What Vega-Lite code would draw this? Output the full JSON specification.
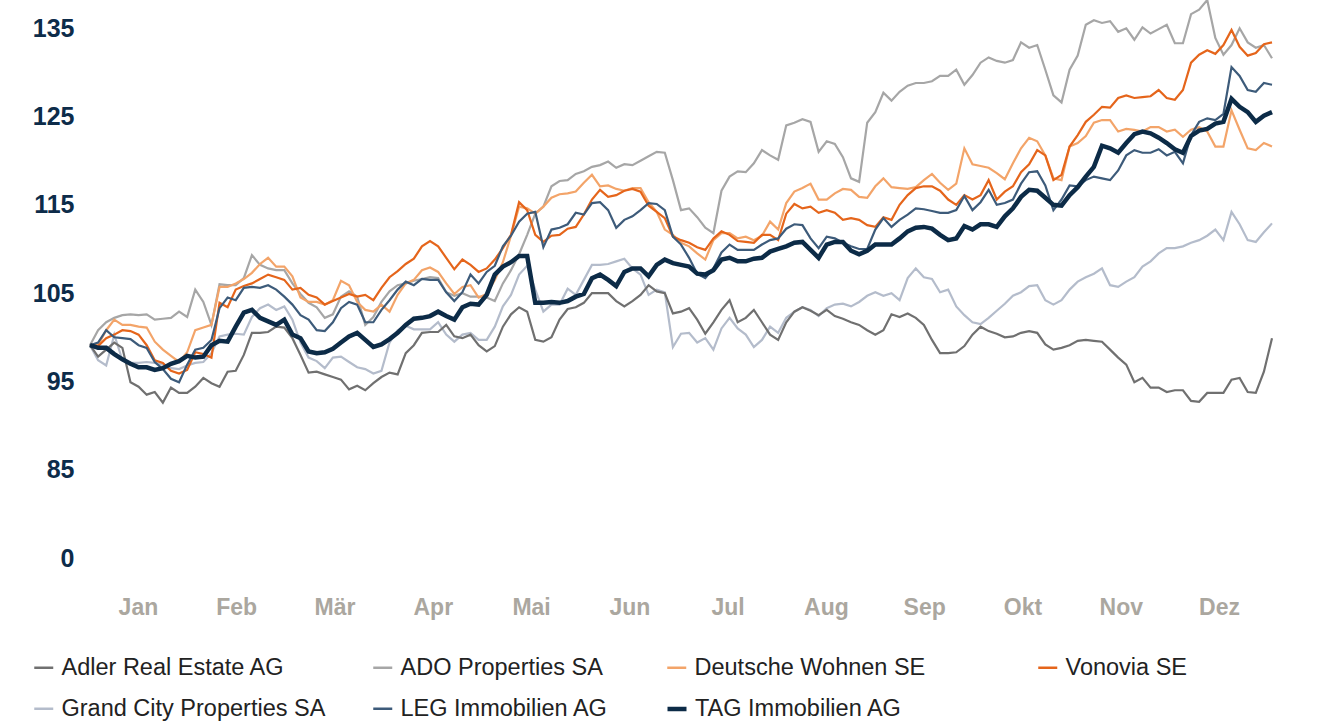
{
  "$schema": "https://vega.github.io/schema/vega-lite/v6.json",
  "width": 1182,
  "height": 558,
  "autosize": {"type": "none"},
  "padding": {"left": 90, "top": 0, "right": 47, "bottom": 163},
  "background": "white",
  "datasets": {
    "names": [
      {"k": "a", "name": "Adler Real Estate AG"},
      {"k": "o", "name": "ADO Properties SA"},
      {"k": "w", "name": "Deutsche Wohnen SE"},
      {"k": "v", "name": "Vonovia SE"},
      {"k": "g", "name": "Grand City Properties SA"},
      {"k": "l", "name": "LEG Immobilien AG"},
      {"k": "t", "name": "TAG Immobilien AG"}
    ]
  },
  "data": {
    "values": [
      {"d": 0, "a": 99.1, "o": 99.1, "w": 99.1, "v": 99.1, "g": 99.1, "l": 99.1, "t": 99.1},
      {"d": 5, "a": 98.6, "o": 101.7, "w": 100.8, "v": 99.9, "g": 96.8, "l": 100.8, "t": 98.8},
      {"d": 10, "a": 98.8, "o": 102.5, "w": 101.4, "v": 100.8, "g": 97.4, "l": 99.9, "t": 97.5},
      {"d": 15, "a": 94.4, "o": 102.5, "w": 101.2, "v": 100.3, "g": 97.1, "l": 99.1, "t": 96.6},
      {"d": 20, "a": 93.8, "o": 102.0, "w": 99.5, "v": 97.4, "g": 97.1, "l": 97.2, "t": 96.3},
      {"d": 25, "a": 94.3, "o": 102.2, "w": 97.9, "v": 96.2, "g": 96.5, "l": 95.3, "t": 97.0},
      {"d": 30, "a": 93.7, "o": 102.3, "w": 98.3, "v": 96.3, "g": 96.8, "l": 96.9, "t": 97.9},
      {"d": 35, "a": 95.4, "o": 104.0, "w": 101.1, "v": 98.1, "g": 97.2, "l": 98.8, "t": 97.8},
      {"d": 40, "a": 94.4, "o": 106.0, "w": 105.7, "v": 103.9, "g": 100.1, "l": 103.3, "t": 99.6},
      {"d": 45, "a": 96.2, "o": 105.9, "w": 106.1, "v": 105.4, "g": 100.4, "l": 104.2, "t": 101.2},
      {"d": 50, "a": 100.5, "o": 109.3, "w": 107.3, "v": 106.1, "g": 102.3, "l": 105.7, "t": 103.1},
      {"d": 55, "a": 100.6, "o": 107.8, "w": 109.0, "v": 107.1, "g": 103.7, "l": 105.9, "t": 101.8},
      {"d": 60, "a": 101.1, "o": 107.6, "w": 108.0, "v": 106.5, "g": 103.5, "l": 104.6, "t": 102.0},
      {"d": 65, "a": 98.0, "o": 104.9, "w": 104.5, "v": 105.6, "g": 99.4, "l": 102.5, "t": 99.9},
      {"d": 70, "a": 96.1, "o": 103.4, "w": 104.0, "v": 104.5, "g": 97.3, "l": 100.8, "t": 98.2},
      {"d": 75, "a": 95.5, "o": 102.6, "w": 104.2, "v": 104.1, "g": 97.7, "l": 101.7, "t": 98.7},
      {"d": 80, "a": 94.1, "o": 105.2, "w": 105.9, "v": 104.9, "g": 97.2, "l": 104.0, "t": 100.1},
      {"d": 85, "a": 94.0, "o": 101.4, "w": 103.1, "v": 104.8, "g": 96.4, "l": 101.7, "t": 99.7},
      {"d": 90, "a": 95.5, "o": 104.0, "w": 103.7, "v": 105.6, "g": 96.2, "l": 103.1, "t": 99.2},
      {"d": 95, "a": 95.8, "o": 105.9, "w": 104.8, "v": 107.5, "g": 100.8, "l": 105.4, "t": 100.5},
      {"d": 100, "a": 99.1, "o": 106.4, "w": 106.5, "v": 108.9, "g": 100.9, "l": 105.9, "t": 102.1},
      {"d": 105, "a": 100.6, "o": 106.8, "w": 107.9, "v": 110.9, "g": 100.9, "l": 106.5, "t": 102.4},
      {"d": 110, "a": 101.4, "o": 105.1, "w": 106.1, "v": 109.0, "g": 100.3, "l": 105.1, "t": 102.4},
      {"d": 115, "a": 99.9, "o": 105.0, "w": 105.7, "v": 108.8, "g": 100.3, "l": 105.1, "t": 103.4},
      {"d": 120, "a": 99.1, "o": 104.6, "w": 104.5, "v": 107.4, "g": 99.7, "l": 106.1, "t": 103.7},
      {"d": 125, "a": 99.0, "o": 104.1, "w": 106.5, "v": 108.8, "g": 101.2, "l": 108.1, "t": 107.1},
      {"d": 130, "a": 102.6, "o": 107.6, "w": 111.5, "v": 111.6, "g": 104.8, "l": 111.5, "t": 108.5},
      {"d": 135, "a": 102.9, "o": 111.6, "w": 114.6, "v": 114.4, "g": 108.1, "l": 114.0, "t": 109.2},
      {"d": 140, "a": 99.5, "o": 114.8, "w": 114.8, "v": 110.8, "g": 102.9, "l": 110.2, "t": 103.9},
      {"d": 145, "a": 102.0, "o": 117.7, "w": 116.2, "v": 111.6, "g": 103.7, "l": 112.4, "t": 103.9},
      {"d": 150, "a": 103.4, "o": 118.5, "w": 116.5, "v": 112.5, "g": 104.8, "l": 114.1, "t": 104.6},
      {"d": 155, "a": 105.0, "o": 119.3, "w": 118.4, "v": 115.6, "g": 108.2, "l": 115.2, "t": 106.7},
      {"d": 160, "a": 105.0, "o": 119.9, "w": 117.2, "v": 115.9, "g": 108.3, "l": 114.4, "t": 106.5},
      {"d": 165, "a": 103.5, "o": 119.6, "w": 116.6, "v": 116.6, "g": 108.9, "l": 113.3, "t": 107.4},
      {"d": 170, "a": 104.8, "o": 120.0, "w": 116.9, "v": 116.5, "g": 107.1, "l": 114.4, "t": 107.8},
      {"d": 175, "a": 105.2, "o": 121.0, "w": 114.2, "v": 114.2, "g": 105.4, "l": 115.1, "t": 108.2},
      {"d": 180, "a": 102.7, "o": 117.8, "w": 111.6, "v": 111.4, "g": 98.9, "l": 111.4, "t": 108.4},
      {"d": 185, "a": 103.3, "o": 114.6, "w": 110.3, "v": 110.7, "g": 100.5, "l": 109.0, "t": 108.0},
      {"d": 190, "a": 100.4, "o": 112.4, "w": 108.8, "v": 109.9, "g": 99.9, "l": 106.7, "t": 107.1},
      {"d": 195, "a": 103.1, "o": 116.6, "w": 111.8, "v": 112.0, "g": 101.0, "l": 109.6, "t": 108.8},
      {"d": 200, "a": 101.7, "o": 118.8, "w": 111.2, "v": 110.9, "g": 101.0, "l": 109.9, "t": 108.6},
      {"d": 205, "a": 103.1, "o": 119.7, "w": 111.0, "v": 110.7, "g": 98.9, "l": 109.9, "t": 108.9},
      {"d": 210, "a": 100.3, "o": 120.6, "w": 113.1, "v": 111.6, "g": 101.2, "l": 111.0, "t": 109.7},
      {"d": 215, "a": 101.7, "o": 124.0, "w": 115.2, "v": 114.0, "g": 102.2, "l": 112.3, "t": 110.3},
      {"d": 220, "a": 103.4, "o": 124.7, "w": 116.9, "v": 114.6, "g": 103.4, "l": 112.7, "t": 110.8},
      {"d": 225, "a": 102.5, "o": 121.0, "w": 115.6, "v": 114.1, "g": 102.4, "l": 110.1, "t": 109.0},
      {"d": 230, "a": 102.4, "o": 121.9, "w": 116.3, "v": 114.1, "g": 103.7, "l": 111.2, "t": 110.8},
      {"d": 235, "a": 101.7, "o": 118.0, "w": 116.7, "v": 113.5, "g": 103.5, "l": 110.3, "t": 109.8},
      {"d": 240, "a": 100.8, "o": 124.3, "w": 115.8, "v": 112.7, "g": 104.7, "l": 110.0, "t": 109.8},
      {"d": 245, "a": 100.8, "o": 127.7, "w": 118.0, "v": 113.6, "g": 104.7, "l": 113.5, "t": 110.5},
      {"d": 250, "a": 102.3, "o": 127.8, "w": 116.9, "v": 115.0, "g": 104.2, "l": 113.3, "t": 111.2},
      {"d": 255, "a": 102.2, "o": 128.8, "w": 117.0, "v": 116.9, "g": 107.8, "l": 114.6, "t": 112.4},
      {"d": 260, "a": 99.7, "o": 129.0, "w": 118.5, "v": 117.1, "g": 106.6, "l": 114.3, "t": 112.3},
      {"d": 265, "a": 98.2, "o": 129.6, "w": 116.7, "v": 115.6, "g": 105.4, "l": 114.1, "t": 111.0},
      {"d": 270, "a": 99.0, "o": 128.6, "w": 121.4, "v": 116.1, "g": 102.5, "l": 116.0, "t": 112.6},
      {"d": 275, "a": 101.2, "o": 131.1, "w": 119.4, "v": 116.1, "g": 101.5, "l": 115.3, "t": 112.8},
      {"d": 280, "a": 100.4, "o": 131.3, "w": 118.6, "v": 115.6, "g": 103.0, "l": 115.0, "t": 112.5},
      {"d": 285, "a": 100.1, "o": 131.4, "w": 119.7, "v": 117.1, "g": 104.7, "l": 115.6, "t": 114.6},
      {"d": 290, "a": 100.7, "o": 132.8, "w": 122.6, "v": 119.6, "g": 105.8, "l": 118.7, "t": 116.7},
      {"d": 295, "a": 99.2, "o": 130.3, "w": 120.6, "v": 120.6, "g": 104.2, "l": 117.2, "t": 115.8},
      {"d": 300, "a": 98.8, "o": 126.6, "w": 117.8, "v": 118.4, "g": 104.2, "l": 115.6, "t": 114.9},
      {"d": 305, "a": 99.6, "o": 131.9, "w": 122.0, "v": 122.9, "g": 106.3, "l": 117.1, "t": 117.0},
      {"d": 310, "a": 99.6, "o": 135.9, "w": 124.3, "v": 125.2, "g": 107.2, "l": 118.2, "t": 119.3},
      {"d": 315, "a": 98.6, "o": 135.8, "w": 124.6, "v": 126.0, "g": 105.9, "l": 117.8, "t": 121.4},
      {"d": 320, "a": 96.9, "o": 135.0, "w": 123.6, "v": 127.4, "g": 106.3, "l": 120.6, "t": 122.0},
      {"d": 325, "a": 95.4, "o": 135.1, "w": 123.3, "v": 127.2, "g": 108.0, "l": 120.9, "t": 123.3},
      {"d": 330, "a": 94.3, "o": 134.9, "w": 123.8, "v": 128.0, "g": 109.5, "l": 121.3, "t": 122.6},
      {"d": 335, "a": 94.0, "o": 133.3, "w": 123.5, "v": 126.9, "g": 110.1, "l": 121.0, "t": 121.3},
      {"d": 340, "a": 92.8, "o": 136.6, "w": 123.5, "v": 131.1, "g": 110.7, "l": 122.9, "t": 122.8},
      {"d": 345, "a": 93.7, "o": 138.2, "w": 123.3, "v": 132.5, "g": 111.5, "l": 124.8, "t": 123.6},
      {"d": 350, "a": 93.7, "o": 132.0, "w": 121.6, "v": 133.1, "g": 111.0, "l": 125.3, "t": 124.4},
      {"d": 355, "a": 95.4, "o": 135.0, "w": 123.5, "v": 132.9, "g": 112.8, "l": 129.6, "t": 126.1},
      {"d": 360, "a": 93.7, "o": 132.8, "w": 121.2, "v": 132.2, "g": 110.8, "l": 127.8, "t": 124.4},
      {"d": 365, "a": 99.9, "o": 131.6, "w": 121.6, "v": 133.4, "g": 112.9, "l": 128.6, "t": 125.5},
      {"d": 2.5, "a": 97.8, "o": 100.8, "w": 99.1, "v": 99.0, "g": 97.4, "l": 99.4, "t": 98.8},
      {"d": 7.5, "a": 99.4, "o": 102.2, "w": 102.0, "v": 100.3, "g": 100.3, "l": 100.0, "t": 98.1},
      {"d": 12.5, "a": 94.9, "o": 102.6, "w": 101.4, "v": 100.7, "g": 97.1, "l": 99.8, "t": 97.0},
      {"d": 17.5, "a": 93.5, "o": 102.6, "w": 101.1, "v": 99.1, "g": 97.2, "l": 98.8, "t": 96.6},
      {"d": 22.5, "a": 92.6, "o": 102.1, "w": 98.6, "v": 97.1, "g": 96.9, "l": 96.4, "t": 96.5},
      {"d": 27.5, "a": 93.7, "o": 102.9, "w": 97.2, "v": 95.9, "g": 96.4, "l": 94.9, "t": 97.3},
      {"d": 32.5, "a": 94.4, "o": 105.4, "w": 100.8, "v": 98.3, "g": 97.1, "l": 98.6, "t": 97.7},
      {"d": 37.5, "a": 94.8, "o": 101.4, "w": 101.4, "v": 97.7, "g": 98.2, "l": 99.7, "t": 99.1},
      {"d": 42.5, "a": 96.1, "o": 105.9, "w": 105.7, "v": 103.4, "g": 100.3, "l": 104.5, "t": 99.5},
      {"d": 47.5, "a": 98.0, "o": 106.7, "w": 106.6, "v": 105.8, "g": 100.3, "l": 105.6, "t": 102.8},
      {"d": 52.5, "a": 100.5, "o": 108.2, "w": 108.3, "v": 106.6, "g": 103.3, "l": 105.6, "t": 102.2},
      {"d": 57.5, "a": 101.2, "o": 107.6, "w": 108.0, "v": 106.8, "g": 103.1, "l": 105.4, "t": 101.4},
      {"d": 62.5, "a": 99.9, "o": 106.1, "w": 106.9, "v": 105.4, "g": 102.0, "l": 103.7, "t": 100.3},
      {"d": 67.5, "a": 96.0, "o": 103.9, "w": 104.0, "v": 104.8, "g": 97.7, "l": 102.0, "t": 98.4},
      {"d": 72.5, "a": 95.8, "o": 102.2, "w": 103.7, "v": 103.7, "g": 96.5, "l": 100.7, "t": 98.3},
      {"d": 77.5, "a": 95.2, "o": 104.6, "w": 106.4, "v": 104.5, "g": 97.8, "l": 103.3, "t": 99.4},
      {"d": 82.5, "a": 94.5, "o": 104.6, "w": 104.0, "v": 104.6, "g": 96.6, "l": 103.7, "t": 100.5},
      {"d": 87.5, "a": 94.8, "o": 102.3, "w": 102.9, "v": 104.2, "g": 95.9, "l": 101.7, "t": 98.9},
      {"d": 92.5, "a": 96.0, "o": 105.2, "w": 102.9, "v": 106.8, "g": 99.4, "l": 104.2, "t": 99.8},
      {"d": 97.5, "a": 98.2, "o": 106.1, "w": 106.1, "v": 108.3, "g": 101.3, "l": 106.3, "t": 101.4},
      {"d": 102.5, "a": 100.5, "o": 106.6, "w": 107.6, "v": 110.3, "g": 100.9, "l": 106.6, "t": 102.2},
      {"d": 107.5, "a": 100.6, "o": 106.7, "w": 107.4, "v": 110.3, "g": 101.7, "l": 106.5, "t": 102.9},
      {"d": 112.5, "a": 100.1, "o": 104.7, "w": 104.9, "v": 107.7, "g": 99.5, "l": 104.1, "t": 102.0},
      {"d": 117.5, "a": 100.3, "o": 104.6, "w": 105.9, "v": 108.2, "g": 100.5, "l": 107.1, "t": 103.8},
      {"d": 122.5, "a": 98.4, "o": 104.5, "w": 104.9, "v": 107.8, "g": 99.7, "l": 107.4, "t": 104.8},
      {"d": 127.5, "a": 101.2, "o": 106.1, "w": 108.5, "v": 110.1, "g": 103.5, "l": 110.3, "t": 108.0},
      {"d": 132.5, "a": 103.4, "o": 109.4, "w": 114.8, "v": 115.3, "g": 107.1, "l": 113.1, "t": 109.2},
      {"d": 137.5, "a": 99.7, "o": 114.0, "w": 114.0, "v": 111.6, "g": 105.4, "l": 114.2, "t": 103.9},
      {"d": 142.5, "a": 100.0, "o": 117.1, "w": 115.8, "v": 111.5, "g": 103.7, "l": 112.2, "t": 104.0},
      {"d": 147.5, "a": 103.2, "o": 117.8, "w": 116.3, "v": 112.3, "g": 105.5, "l": 112.8, "t": 104.1},
      {"d": 152.5, "a": 103.9, "o": 118.8, "w": 117.5, "v": 113.9, "g": 106.5, "l": 113.9, "t": 104.9},
      {"d": 157.5, "a": 105.0, "o": 119.5, "w": 117.1, "v": 116.7, "g": 108.2, "l": 115.3, "t": 107.1},
      {"d": 162.5, "a": 104.1, "o": 119.2, "w": 116.8, "v": 116.1, "g": 108.6, "l": 112.4, "t": 105.8},
      {"d": 167.5, "a": 104.1, "o": 119.5, "w": 116.9, "v": 116.8, "g": 107.8, "l": 113.7, "t": 107.8},
      {"d": 172.5, "a": 105.9, "o": 120.5, "w": 115.3, "v": 114.9, "g": 104.8, "l": 115.2, "t": 106.9},
      {"d": 177.5, "a": 105.0, "o": 120.9, "w": 112.2, "v": 113.5, "g": 105.1, "l": 114.4, "t": 108.8},
      {"d": 182.5, "a": 102.9, "o": 114.4, "w": 110.7, "v": 111.0, "g": 100.4, "l": 110.5, "t": 108.2},
      {"d": 187.5, "a": 102.0, "o": 113.6, "w": 109.5, "v": 110.2, "g": 99.4, "l": 107.2, "t": 107.2},
      {"d": 192.5, "a": 101.7, "o": 111.8, "w": 111.0, "v": 111.2, "g": 98.6, "l": 107.8, "t": 107.6},
      {"d": 197.5, "a": 104.2, "o": 118.2, "w": 111.8, "v": 111.6, "g": 102.2, "l": 110.5, "t": 109.0},
      {"d": 202.5, "a": 102.2, "o": 118.7, "w": 111.4, "v": 110.8, "g": 100.3, "l": 109.9, "t": 108.6},
      {"d": 207.5, "a": 101.7, "o": 121.2, "w": 111.5, "v": 111.6, "g": 99.7, "l": 110.5, "t": 109.0},
      {"d": 212.5, "a": 99.7, "o": 120.1, "w": 112.2, "v": 111.0, "g": 100.5, "l": 111.2, "t": 110.0},
      {"d": 217.5, "a": 102.9, "o": 124.3, "w": 116.5, "v": 115.1, "g": 102.9, "l": 112.8, "t": 110.7},
      {"d": 222.5, "a": 103.0, "o": 124.4, "w": 117.4, "v": 114.8, "g": 103.1, "l": 111.2, "t": 109.9},
      {"d": 227.5, "a": 103.1, "o": 122.2, "w": 115.6, "v": 114.4, "g": 103.3, "l": 111.4, "t": 110.5},
      {"d": 232.5, "a": 102.1, "o": 120.4, "w": 116.8, "v": 113.3, "g": 103.8, "l": 110.7, "t": 110.8},
      {"d": 237.5, "a": 101.4, "o": 117.6, "w": 115.9, "v": 113.3, "g": 104.0, "l": 110.0, "t": 109.4},
      {"d": 242.5, "a": 100.3, "o": 125.5, "w": 117.1, "v": 112.5, "g": 105.1, "l": 112.2, "t": 110.5},
      {"d": 247.5, "a": 102.6, "o": 126.8, "w": 117.0, "v": 113.3, "g": 105.0, "l": 112.5, "t": 110.5},
      {"d": 252.5, "a": 102.7, "o": 128.5, "w": 116.8, "v": 116.1, "g": 106.7, "l": 113.9, "t": 112.0},
      {"d": 257.5, "a": 101.4, "o": 128.8, "w": 117.8, "v": 117.1, "g": 106.8, "l": 114.5, "t": 112.5},
      {"d": 262.5, "a": 98.2, "o": 129.6, "w": 117.5, "v": 116.6, "g": 105.1, "l": 114.1, "t": 111.6},
      {"d": 267.5, "a": 98.3, "o": 130.3, "w": 117.4, "v": 115.0, "g": 103.5, "l": 114.4, "t": 111.2},
      {"d": 272.5, "a": 100.3, "o": 129.7, "w": 119.6, "v": 115.6, "g": 101.7, "l": 114.4, "t": 112.2},
      {"d": 277.5, "a": 100.7, "o": 131.7, "w": 119.2, "v": 117.8, "g": 102.2, "l": 116.7, "t": 112.8},
      {"d": 282.5, "a": 100.0, "o": 131.1, "w": 117.9, "v": 116.5, "g": 103.8, "l": 115.2, "t": 113.7},
      {"d": 287.5, "a": 100.5, "o": 133.4, "w": 121.4, "v": 118.7, "g": 105.1, "l": 117.4, "t": 115.9},
      {"d": 292.5, "a": 100.5, "o": 133.1, "w": 122.2, "v": 121.2, "g": 105.9, "l": 118.8, "t": 116.6},
      {"d": 297.5, "a": 98.6, "o": 127.4, "w": 118.0, "v": 117.8, "g": 103.7, "l": 114.4, "t": 115.0},
      {"d": 302.5, "a": 99.1, "o": 130.3, "w": 121.6, "v": 121.6, "g": 105.4, "l": 117.2, "t": 116.1},
      {"d": 307.5, "a": 99.7, "o": 135.4, "w": 122.8, "v": 124.4, "g": 106.8, "l": 117.8, "t": 118.2},
      {"d": 312.5, "a": 99.5, "o": 135.6, "w": 124.6, "v": 126.1, "g": 107.8, "l": 118.0, "t": 121.7},
      {"d": 317.5, "a": 97.7, "o": 134.6, "w": 123.3, "v": 127.1, "g": 105.7, "l": 118.9, "t": 120.9},
      {"d": 322.5, "a": 94.9, "o": 133.7, "w": 123.5, "v": 127.1, "g": 106.8, "l": 121.2, "t": 123.0},
      {"d": 327.5, "a": 94.3, "o": 134.4, "w": 123.8, "v": 127.3, "g": 108.6, "l": 120.9, "t": 123.1},
      {"d": 332.5, "a": 93.8, "o": 135.4, "w": 123.3, "v": 127.1, "g": 110.1, "l": 120.6, "t": 122.0},
      {"d": 337.5, "a": 94.0, "o": 133.3, "w": 122.7, "v": 128.0, "g": 110.3, "l": 119.7, "t": 120.9},
      {"d": 342.5, "a": 92.7, "o": 137.1, "w": 123.8, "v": 132.0, "g": 111.0, "l": 124.4, "t": 123.4},
      {"d": 347.5, "a": 93.7, "o": 133.9, "w": 121.6, "v": 132.1, "g": 112.2, "l": 124.6, "t": 124.2},
      {"d": 352.5, "a": 95.2, "o": 133.1, "w": 125.7, "v": 134.8, "g": 114.2, "l": 130.6, "t": 127.0},
      {"d": 357.5, "a": 93.8, "o": 133.4, "w": 121.4, "v": 131.9, "g": 111.0, "l": 128.0, "t": 125.5},
      {"d": 362.5, "a": 96.1, "o": 133.1, "w": 122.0, "v": 133.2, "g": 111.9, "l": 128.8, "t": 125.1}
    ]
  },
  "transform": [
    {"fold": ["a", "o", "w", "v", "g", "l", "t"], "as": ["k", "val"]},
    {"lookup": "k", "from": {"data": {"name": "names"}, "key": "k", "fields": ["name"]}}
  ],
  "encoding": {
    "x": {
      "field": "d",
      "type": "quantitative",
      "scale": {"domain": [0, 365], "nice": false, "zero": false},
      "axis": {
        "title": null,
        "values": [14.8, 45.15, 75.5, 105.85, 136.2, 166.55, 196.9, 227.25, 257.6, 287.95, 318.3, 348.65],
        "labelExpr": "['Jan','Feb','Mär','Apr','Mai','Jun','Jul','Aug','Sep','Okt','Nov','Dez'][floor(datum.value/30.35)]",
        "domain": false,
        "ticks": false,
        "grid": false,
        "labelFont": "Liberation Sans",
        "labelFontWeight": "bold",
        "labelFontSize": 23,
        "labelColor": "#aba79f",
        "labelPadding": 38,
        "labelFlush": false,
        "labelOverlap": false
      }
    },
    "y": {
      "field": "val",
      "type": "quantitative",
      "scale": {"domain": [75, 138.2], "nice": false, "zero": false},
      "axis": {
        "title": null,
        "values": [75, 85, 95, 105, 115, 125, 135],
        "labelExpr": "datum.value == 75 ? '0' : datum.label",
        "domain": false,
        "ticks": false,
        "grid": false,
        "labelFont": "Liberation Sans",
        "labelFontWeight": "bold",
        "labelFontSize": 25,
        "labelColor": "#0d2c4a",
        "labelPadding": 16,
        "labelOverlap": false
      }
    }
  },
  "layer": [
    {
      "transform": [{"filter": "datum.k === 'g'"}],
      "mark": {"type": "line", "strokeWidth": 2.2},
      "encoding": {"color": {"field": "name", "type": "nominal", "title": null, "scale": {"range": ["#b4bccb"]}, "legend": {"orient": "none", "legendX": -58, "legendY": 697, "symbolStrokeWidth": 2.5}}}
    },
    {
      "transform": [{"filter": "datum.k === 'a'"}],
      "mark": {"type": "line", "strokeWidth": 2.2},
      "encoding": {"color": {"field": "name", "type": "nominal", "title": null, "scale": {"range": ["#707070"]}, "legend": {"orient": "none", "legendX": -58, "legendY": 656, "symbolStrokeWidth": 2.5}}}
    },
    {
      "transform": [{"filter": "datum.k === 'o'"}],
      "mark": {"type": "line", "strokeWidth": 2.2},
      "encoding": {"color": {"field": "name", "type": "nominal", "title": null, "scale": {"range": ["#a6a6a6"]}, "legend": {"orient": "none", "legendX": 281, "legendY": 656, "symbolStrokeWidth": 2.5}}}
    },
    {
      "transform": [{"filter": "datum.k === 'w'"}],
      "mark": {"type": "line", "strokeWidth": 2.2},
      "encoding": {"color": {"field": "name", "type": "nominal", "title": null, "scale": {"range": ["#f3a469"]}, "legend": {"orient": "none", "legendX": 575, "legendY": 656, "symbolStrokeWidth": 2.5}}}
    },
    {
      "transform": [{"filter": "datum.k === 'v'"}],
      "mark": {"type": "line", "strokeWidth": 2.2},
      "encoding": {"color": {"field": "name", "type": "nominal", "title": null, "scale": {"range": ["#e5651b"]}, "legend": {"orient": "none", "legendX": 946, "legendY": 656, "symbolStrokeWidth": 2.5}}}
    },
    {
      "transform": [{"filter": "datum.k === 'l'"}],
      "mark": {"type": "line", "strokeWidth": 2.2},
      "encoding": {"color": {"field": "name", "type": "nominal", "title": null, "scale": {"range": ["#3d5b7a"]}, "legend": {"orient": "none", "legendX": 281, "legendY": 697, "symbolStrokeWidth": 2.5}}}
    },
    {
      "transform": [{"filter": "datum.k === 't'"}],
      "mark": {"type": "line", "strokeWidth": 4.5},
      "encoding": {"color": {"field": "name", "type": "nominal", "title": null, "scale": {"range": ["#0c2b47"]}, "legend": {"orient": "none", "legendX": 575, "legendY": 697, "symbolStrokeWidth": 4.5}}}
    }
  ],
  "resolve": {"scale": {"color": "independent"}, "legend": {"color": "independent"}},
  "config": {
    "view": {"stroke": null},
    "legend": {
      "symbolType": "stroke",
      "symbolSize": 361,
      "labelFont": "Liberation Sans",
      "labelFontSize": 23.5,
      "labelColor": "#222222",
      "labelOffset": 6,
      "labelLimit": 400,
      "padding": 0
    }
  }
}
